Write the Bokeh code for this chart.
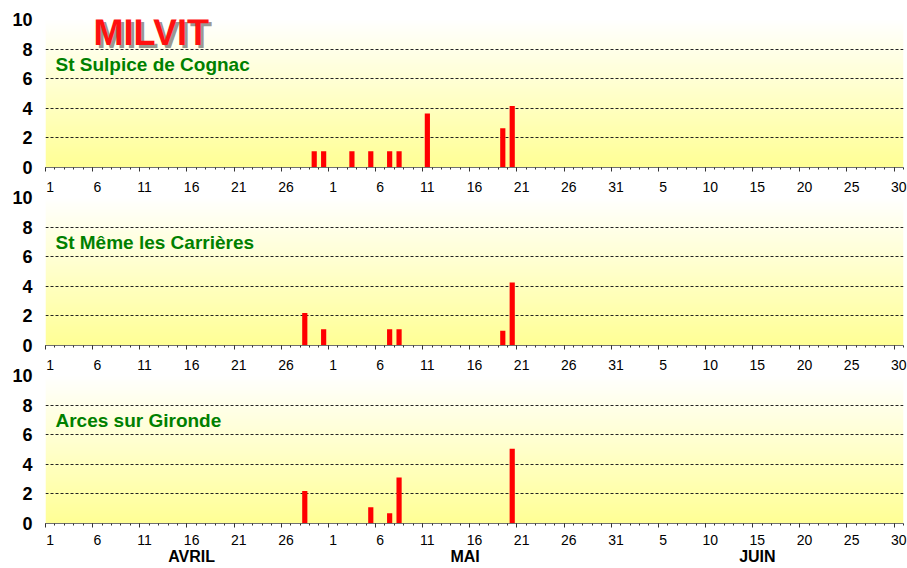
import datetime as dt
import numpy as np
from bokeh.plotting import figure
from bokeh.models import (Range1d, FixedTicker, LinearAxis, Label, Grid, ColumnDataSource,
                          CustomLabelingPolicy)
from bokeh.layouts import column
from bokeh.embed import file_html
from bokeh.resources import INLINE

# ---------------- data ----------------
season_start = "04-01"
season_days = 91                      # 1 April .. 30 June
tick_every = 5                        # labelled every 5th day
month_names = ["AVRIL", "MAI", "JUIN"]
month_label_days = ["04-16", "05-15", "06-15"]
y_ticks = [0, 2, 4, 6, 8, 10]
grid_ticks = [2, 4, 6, 8, 10]
species = "MILVIT"

station_names = ["St Sulpice de Cognac", "St Même les Carrières", "Arces sur Gironde"]

sulpice_dates = ["04-29", "04-30", "05-03", "05-05", "05-07", "05-08", "05-11", "05-19", "05-20"]
sulpice_counts = [1.1, 1.1, 1.1, 1.1, 1.1, 1.1, 3.65, 2.65, 4.15]

meme_dates = ["04-28", "04-30", "05-07", "05-08", "05-19", "05-20"]
meme_counts = [2.2, 1.1, 1.1, 1.1, 1.0, 4.25]

arces_dates = ["04-28", "05-05", "05-07", "05-08", "05-20"]
arces_counts = [2.2, 1.1, 0.7, 3.1, 5.05]

# ---------------- helpers ----------------
YEAR = 2010
def to_date(md):
    m, d = md.split("-")
    return dt.date(YEAR, int(m), int(d))

start = to_date(season_start)
def day_index(md):
    return (to_date(md) - start).days

all_days = [start + dt.timedelta(days=i) for i in range(season_days)]
label_idx = list(range(0, season_days, tick_every))
label_text = {i: str(all_days[i].day) for i in label_idx}
month_idx = [day_index(d) for d in month_label_days]
month_text = {i: n for i, n in zip(month_idx, month_names)}

FONT = "Liberation Sans"
W = 907
LEFT, RIGHT = 45, 4

# vertical gradient background (white at top -> pale yellow at bottom)
rows = 160
t = np.linspace(0, 1, rows)
img = np.empty((rows, 1), dtype=np.uint32)
view = img.view(dtype=np.uint8).reshape((rows, 1, 4))
view[:, 0, 0] = 255
view[:, 0, 1] = 255
view[:, 0, 2] = (150 + (255 - 150) * t).astype(np.uint8)
view[:, 0, 3] = 255

x_range = Range1d(-0.5, season_days - 0.5)
hide_all = CustomLabelingPolicy(code="for (const i of indices) { indices.unset(i) }")


def make_panel(name, dates, counts, height, top, bottom, margin, label_standoff=10):
    p = figure(width=W, height=height, x_range=x_range, y_range=Range1d(0, 10),
               output_backend="svg", toolbar_location=None,
               x_axis_type=None, y_axis_type=None,
               min_border_left=LEFT, min_border_right=RIGHT,
               min_border_top=top, min_border_bottom=bottom,
               border_fill_color=None, background_fill_color=None,
               outline_line_color=None)
    if margin is not None:
        p.margin = margin

    p.image_rgba(image=[img], x=-0.5, y=0, dw=season_days, dh=10, level="image")

    grid = Grid(dimension=1, ticker=FixedTicker(ticks=grid_ticks),
                grid_line_color="#222222", grid_line_dash="3 2", grid_line_width=1)
    p.add_layout(grid)

    src = ColumnDataSource(dict(x=[day_index(d) for d in dates], top=counts))
    p.vbar(x="x", top="top", width=0.55, source=src, fill_color="#FF0000", line_color=None)

    yax = LinearAxis(ticker=FixedTicker(ticks=y_ticks), axis_line_color=None,
                     major_tick_out=0, major_tick_in=0, minor_tick_out=0, minor_tick_in=0,
                     major_label_text_font=FONT, major_label_text_font_style="bold",
                     major_label_text_font_size="18px", major_label_text_color="#000000",
                     major_label_standoff=13)
    p.add_layout(yax, "left")

    tick_ax = LinearAxis(ticker=FixedTicker(ticks=[i - 0.5 for i in label_idx],
                                            minor_ticks=[i - 0.5 for i in range(season_days + 1)]),
                         axis_line_color="#707070", axis_line_width=1,
                         major_tick_line_color="#333333", minor_tick_line_color="#333333",
                         major_tick_out=4, major_tick_in=0, minor_tick_out=2, minor_tick_in=0,
                         major_label_text_font_size="0px", major_label_standoff=0,
                         major_label_policy=hide_all)
    p.add_layout(tick_ax, "below")

    lab_ax = LinearAxis(ticker=FixedTicker(ticks=label_idx), major_label_overrides=label_text,
                        axis_line_color=None, major_tick_out=0, major_tick_in=0,
                        minor_tick_out=0, minor_tick_in=0,
                        major_label_text_font=FONT, major_label_text_font_size="14px",
                        major_label_text_color="#000000", major_label_standoff=label_standoff)
    p.add_layout(lab_ax, "below")

    p.add_layout(Label(x=0.56, y=6.95, text=name, text_font=FONT, text_font_style="bold",
                       text_font_size="19px", text_color="#008000", text_baseline="middle"))
    return p


p1 = make_panel(station_names[0], sulpice_dates, sulpice_counts, 196, 19, 29, None)
p2 = make_panel(station_names[1], meme_dates, meme_counts, 188, 11, 29, (-10, 0, 0, 0))
p3 = make_panel(station_names[2], arces_dates, arces_counts, 204, 11, 45, (-10, 0, -10, 0),
                label_standoff=7)

month_ax = LinearAxis(ticker=FixedTicker(ticks=month_idx), major_label_overrides=month_text,
                      axis_line_color=None, major_tick_out=0, major_tick_in=0,
                      minor_tick_out=0, minor_tick_in=0,
                      major_label_text_font=FONT, major_label_text_font_style="bold",
                      major_label_text_font_size="16px", major_label_text_color="#000000",
                      major_label_standoff=0)
p3.add_layout(month_ax, "below")

# species title with shadow
for color, alpha, dx, dy in [("#404040", 0.55, 3, -3), ("#FF1010", 1.0, 0, 0)]:
    p1.add_layout(Label(x=4.6, y=9.1, text=species, text_font=FONT,
                        text_font_style="bold", text_font_size="36px", text_color=color,
                        text_alpha=alpha, x_offset=dx, y_offset=dy, text_baseline="middle"))

layout = column(p1, p2, p3, spacing=0)
open("out.html", "w").write(file_html(layout, INLINE))
